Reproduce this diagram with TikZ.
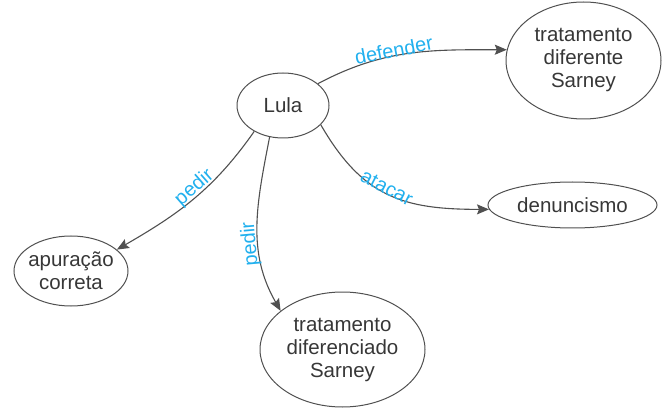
\documentclass[tikz,border=0pt]{standalone}
\usepackage{fontspec}
\setmainfont{Liberation Sans}
\usetikzlibrary{shapes.geometric,arrows.meta}
\definecolor{conceptline}{RGB}{80,80,80}
\definecolor{concepttext}{RGB}{55,55,55}
\definecolor{linklabel}{RGB}{33,176,238}
\tikzset{
  concept/.style={ellipse, draw=conceptline, line width=1pt, inner sep=-6pt,
    text=concepttext, align=center, font=\fontsize{20.5}{23}\selectfont},
  link/.style={draw=conceptline, line width=1.1pt,
    -{Stealth[length=12pt,width=10pt,inset=2pt]}},
  linkname/.style={text=linklabel, font=\fontsize{20}{22}\selectfont,
    anchor=south, inner sep=-2pt}
}
\begin{document}
\begin{tikzpicture}[x=1pt,y=1pt]
  \useasboundingbox (0,0) rectangle (662,-409);

  % concepts
  \node[concept, minimum width=92pt, minimum height=65pt] (lula) at (283,-105.5) {Lula};
  \node[concept, minimum width=155pt, minimum height=117pt] (tds) at (583.5,-60.5)
    {tratamento\\diferente\\Sarney};
  \node[concept, minimum width=169pt, minimum height=46pt] (den) at (572.5,-205) {denuncismo};
  \node[concept, minimum width=114pt, minimum height=70pt] (apu) at (71,-271)
    {apuração\\correta};
  \node[concept, minimum width=165pt, minimum height=115pt] (tdd) at (342.5,-349.5)
    {tratamento\\diferenciado\\Sarney};

  % relations
  \draw[link] (lula.32) to[out=28,in=180]
    node[linkname, sloped, pos=0.42] {defender} (tds.172);
  \draw[link] (lula.-27) to[out=-60,in=180, looseness=1.15]
    node[linkname, sloped, pos=0.47] {atacar} (den.183);
  \draw[link] (lula.222) to[out=235,in=30]
    node[linkname, sloped, pos=0.45] {pedir} (apu.25);
  \draw[link] (lula.247) to[out=259,in=120]
    node[linkname, rotate=95, pos=0.6] {pedir} (tdd.148);
\end{tikzpicture}
\end{document}
